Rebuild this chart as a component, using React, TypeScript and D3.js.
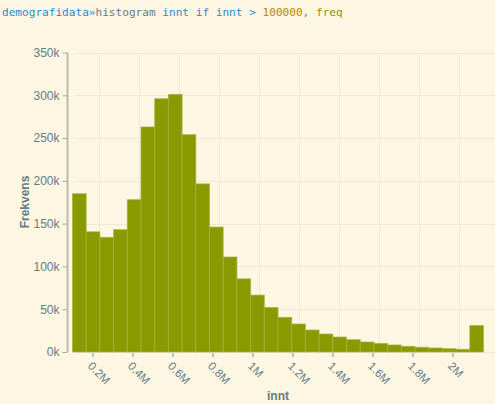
import { useEffect, useRef } from "react";
import * as d3 from "d3";

// histogram of innt (> 100000), 30 bins
const binStart = 100000;
const binWidth = 68500;
const counts = [
  185000, 140500, 134000, 143000, 178000, 263000, 296000, 301000, 254000, 196500,
  146000, 111000, 85500, 66500, 52000, 40500, 32700, 25700, 21000, 17500,
  14400, 11700, 10000, 8200, 6600, 5500, 4700, 3900, 3100, 31000,
];
const yTicks = [0, 50000, 100000, 150000, 200000, 250000, 300000, 350000];
const xTicks = [200000, 400000, 600000, 800000, 1000000, 1200000, 1400000, 1600000, 1800000, 2000000];
const xTickLabels = ["0.2M", "0.4M", "0.6M", "0.8M", "1M", "1.2M", "1.4M", "1.6M", "1.8M", "2M"];

const titleParts = [
  { text: "demografidata", color: "#268bd2" },
  { text: "»", color: "#268bd2" },
  { text: "histogram ", color: "#657b83" },
  { text: "innt ", color: "#268bd2" },
  { text: "if ", color: "#6c71c4" },
  { text: "innt ", color: "#268bd2" },
  { text: "> ", color: "#268bd2" },
  { text: "100000", color: "#b58900" },
  { text: ", ", color: "#657b83" },
  { text: "freq", color: "#859900" },
];

const W = 495;
const H = 404;
const BG = "#fdf6e3";
const GRID = "#eee8d5";
const TEXT = "#657b83";

export default function App() {
  const ref = useRef<SVGSVGElement | null>(null);

  useEffect(() => {
    if (!ref.current) return;
    const svg = d3.select(ref.current);
    svg.selectAll("*").remove();

    const bins = counts.map((c, i) => ({
      x0: binStart + i * binWidth,
      x1: binStart + (i + 1) * binWidth,
      count: c,
    }));
    const binEnd = binStart + counts.length * binWidth;

    const x = d3.scaleLinear().domain([binStart, binEnd]).range([72.5, 483.5]);
    const y = d3.scaleLinear().domain([0, 350000]).range([352, 52.5]);
    const half = (x(binStart + binWidth) - x(binStart)) / 2;

    svg.append("rect").attr("width", W).attr("height", H).attr("fill", BG);

    // title
    const title = svg
      .append("text")
      .attr("x", 2)
      .attr("y", 16)
      .attr("font-family", "DejaVu Sans Mono, monospace")
      .attr("font-size", 11.1)
      .attr("xml:space", "preserve")
      .style("white-space", "pre");
    titleParts.forEach((p) => {
      title.append("tspan").attr("fill", p.color).text(p.text);
    });

    // grid
    const grid = svg.append("g").attr("stroke", GRID).attr("stroke-width", 1);
    grid
      .selectAll("line.h")
      .data(yTicks)
      .join("line")
      .attr("class", "h")
      .attr("x1", 75)
      .attr("x2", W)
      .attr("y1", (d) => Math.round(y(d)) + 0.5)
      .attr("y2", (d) => Math.round(y(d)) + 0.5);
    grid
      .selectAll("line.v")
      .data([...xTicks, 2200000])
      .join("line")
      .attr("class", "v")
      .attr("x1", (d) => Math.round(x(d) + half) + 0.5)
      .attr("x2", (d) => Math.round(x(d) + half) + 0.5)
      .attr("y1", y(350000))
      .attr("y2", y(0));

    // bars
    svg
      .append("g")
      .selectAll("rect")
      .data(bins)
      .join("rect")
      .attr("x", (d) => x(d.x0))
      .attr("y", (d) => y(d.count))
      .attr("width", (d) => x(d.x1) - x(d.x0))
      .attr("height", (d) => y(0) - y(d.count))
      .attr("fill", "#879a00")
      .attr("stroke", "#a6b43c")
      .attr("stroke-opacity", 0.7)
      .attr("stroke-width", 1);

    // y axis
    const yAxis = svg
      .append("g")
      .attr("transform", "translate(67.5,0)")
      .call(
        d3
          .axisLeft(y)
          .tickValues(yTicks)
          .tickSize(5)
          .tickPadding(3)
          .tickFormat((d) => `${(d as number) / 1000}k`)
      );
    yAxis.select(".domain").attr("stroke", "#bdbaab").attr("stroke-width", 2).attr("d", `M0,${y(350000)}V${y(0)}`);
    yAxis.selectAll(".tick line").attr("stroke", "#a9aa9f");
    yAxis
      .selectAll(".tick text")
      .attr("fill", TEXT)
      .attr("font-family", "Liberation Sans, Arial, sans-serif")
      .attr("font-size", 12);

    // x axis
    const xAxis = svg
      .append("g")
      .attr("transform", `translate(0,${y(0)})`)
      .call(d3.axisBottom(x).tickValues(xTicks).tickSize(4).tickFormat((_, i) => xTickLabels[i]));
    xAxis.select(".domain").remove();
    xAxis.selectAll(".tick line").attr("stroke", "#8a8f8a").attr("transform", "translate(0,1)");
    xAxis
      .selectAll(".tick text")
      .attr("fill", TEXT)
      .attr("font-family", "Liberation Sans, Arial, sans-serif")
      .attr("font-size", 11.5)
      .attr("text-anchor", "start")
      .attr("y", 0)
      .attr("dy", "0.72em")
      .attr("transform", "translate(0,9) rotate(45)");

    // axis titles
    svg
      .append("text")
      .attr("transform", "translate(28.5,202) rotate(-90)")
      .attr("text-anchor", "middle")
      .attr("font-family", "Liberation Sans, Arial, sans-serif")
      .attr("font-size", 12)
      .attr("font-weight", "bold")
      .attr("fill", TEXT)
      .text("Frekvens");
    svg
      .append("text")
      .attr("x", 278)
      .attr("y", 400)
      .attr("text-anchor", "middle")
      .attr("font-family", "Liberation Sans, Arial, sans-serif")
      .attr("font-size", 12)
      .attr("font-weight", "bold")
      .attr("fill", TEXT)
      .text("innt");
  }, []);

  return (
    <>
      <style>{`body{margin:0;background:${BG}}`}</style>
      <svg ref={ref} width={W} height={H} style={{ display: "block" }} />
    </>
  );
}
